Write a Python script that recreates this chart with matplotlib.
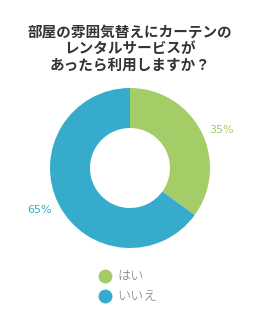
import matplotlib
matplotlib.use("Agg")
import matplotlib.pyplot as plt
from matplotlib.lines import Line2D

plt.rcParams['font.family'] = ['Noto Sans CJK JP', 'DejaVu Sans']

title = "部屋の雰囲気替えにカーテンの\nレンタルサービスが\nあったら利用しますか？"
categories = ["はい", "いいえ"]
values = [35, 65]
colors = ["#a5cd67", "#37abcc"]

W, H = 260, 310
fig = plt.figure(figsize=(W/100, H/100), dpi=100)
fig.patch.set_facecolor("white")

fig.text(0.5, 1 - 48/H, title, ha="center", va="center", fontsize=10.5,
         fontweight="bold", color="#333333", linespacing=1.06)

# pie axes: center (130,168), radius 80
r = 80
ax = fig.add_axes([(130 - r)/W, 1 - (168 + r)/H, 2*r/W, 2*r/H])
wedges, _ = ax.pie(values, colors=colors, startangle=90, counterclock=False,
                   radius=1.0, wedgeprops=dict(width=0.5, edgecolor="none"))
ax.set_xlim(-1, 1)
ax.set_ylim(-1, 1)
ax.set_aspect("equal")
ax.axis("off")

# percentage labels
fig.text(222/W, 1 - 130/H, f"{values[0]}%", ha="center", va="center",
         fontsize=8, color=colors[0], family="DejaVu Sans")
fig.text(40/W, 1 - 210/H, f"{values[1]}%", ha="center", va="center",
         fontsize=8, color=colors[1], family="DejaVu Sans")

# legend
for i, (cat, c) in enumerate(zip(categories, colors)):
    y = 276 + i*20
    fig.add_artist(Line2D([105/W], [1 - y/H], marker="o", markersize=9,
                          color=c, linestyle="none", transform=fig.transFigure))
    fig.text(117/W, 1 - y/H, cat, ha="left", va="center", fontsize=9.5,
             color="#777777", fontweight="light")

fig.savefig("out.png", dpi=100, facecolor="white")
